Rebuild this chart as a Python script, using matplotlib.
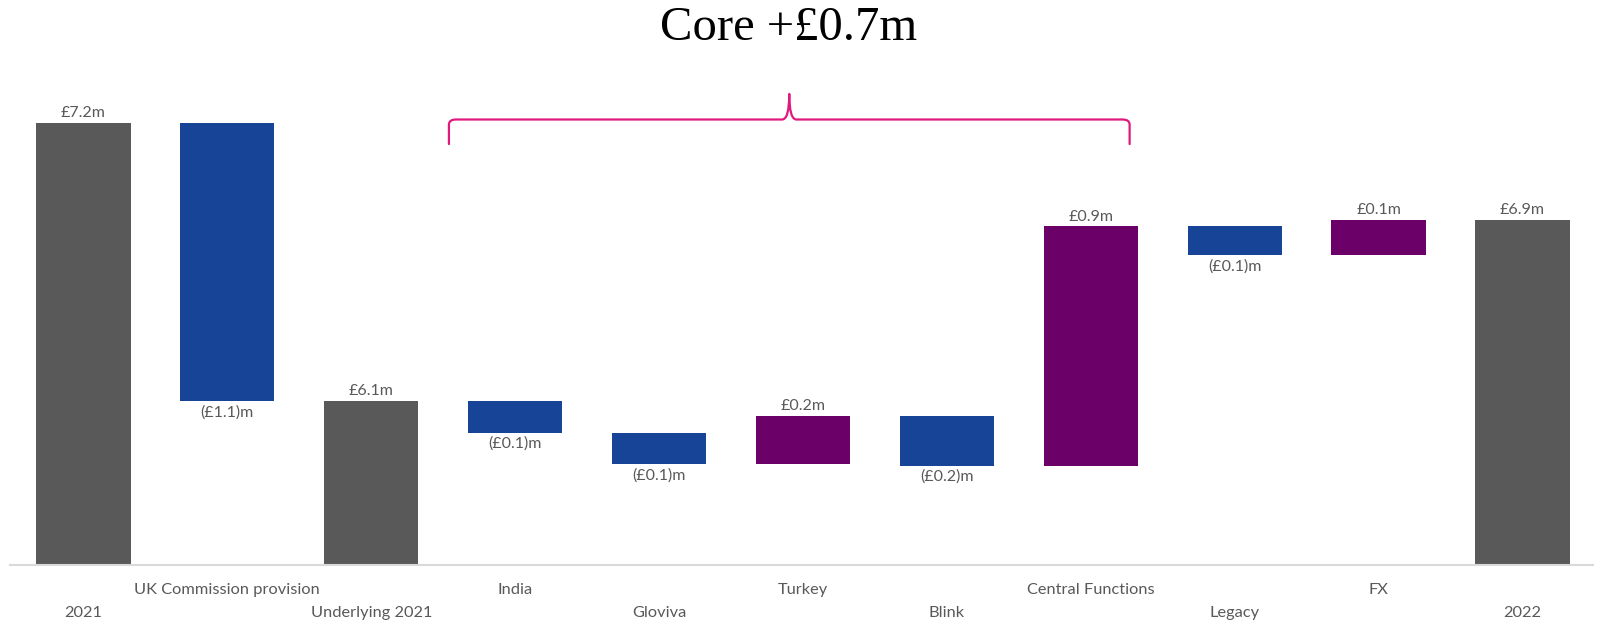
import numpy as np
import matplotlib.pyplot as plt
from matplotlib.path import Path
from matplotlib.patches import PathPatch

# ==== Data (GBP m) ====
categories = ["2021", "UK Commission provision", "Underlying 2021", "India", "Gloviva",
              "Turkey", "Blink", "Central Functions", "Legacy", "FX", "2022"]
is_total = [True, False, True, False, False, False, False, False, False, False, True]
deltas = [7.2, -1.1, 0.0, -0.125, -0.125, 0.19, -0.195, 0.945, -0.113, 0.137, 0.0]
value_labels = ["£7.2m", "(£1.1)m", "£6.1m", "(£0.1)m", "(£0.1)m", "£0.2m",
                "(£0.2)m", "£0.9m", "(£0.1)m", "£0.1m", "£6.9m"]
title_text = "Core +£0.7m"

# ==== Colours ====
C_TOTAL = "#595959"
C_NEG = "#184497"
C_POS = "#6A0068"
C_TEXT = "#595959"
C_BRACE = "#E0197F"

FONT = "Lato"
Y_MIN = 5.454
Y_MAX = 7.684

# ==== Build waterfall ====
bottoms, heights, colors = [], [], []
running = 0.0
for tot, d in zip(is_total, deltas):
    if tot:
        running = running + d
        bottoms.append(Y_MIN)
        heights.append(running - Y_MIN)
        colors.append(C_TOTAL)
    else:
        lo, hi = sorted([running, running + d])
        bottoms.append(lo)
        heights.append(hi - lo)
        colors.append(C_NEG if d < 0 else C_POS)
        running += d

x = np.arange(len(categories))

fig = plt.figure(figsize=(16.01, 6.23), dpi=100)
ax = fig.add_axes([10 / 1601, 1 - 564.6 / 623, 1583 / 1601, 564.6 / 623])
ax.bar(x, heights, bottom=bottoms, width=0.655, color=colors, zorder=2)
ax.set_xlim(-0.51, 10.49)
ax.set_ylim(Y_MIN, Y_MAX)
ax.axis("off")
ax.axhline(Y_MIN, color="#D9D9D9", lw=1.5, zorder=3, clip_on=False)

# value labels
for i, (tot, d) in enumerate(zip(is_total, deltas)):
    top = bottoms[i] + heights[i]
    if not tot and d < 0:
        ax.annotate(value_labels[i], (x[i], bottoms[i]), xytext=(0, -3), textcoords="offset points",
                    ha="center", va="top", fontsize=11.5, color=C_TEXT, family=FONT)
    else:
        ax.annotate(value_labels[i], (x[i], top), xytext=(0, 2), textcoords="offset points",
                    ha="center", va="bottom", fontsize=11.5, color=C_TEXT, family=FONT)

# category labels, staggered
for i, cat in enumerate(categories):
    off = -18 if i % 2 == 1 else -34.5
    ax.annotate(cat, (x[i], 0), xycoords=("data", "axes fraction"), xytext=(0, off),
                textcoords="offset points", ha="center", va="center",
                fontsize=11.8, color=C_TEXT, family=FONT, annotation_clip=False)

# brace over the core segments
bx0, bx1 = 2.54, 7.27
bm = (bx0 + bx1) / 2
yl, yb, yt = 7.212, 7.115, 7.313
r = 0.05
verts = [(bx0, yb), (bx0, yl - 0.02), (bx0, yl), (bx0 + r, yl),
         (bm - r, yl), (bm, yl), (bm, yt),
         (bm, yl), (bm + r, yl),
         (bx1 - r, yl), (bx1, yl), (bx1, yl - 0.02), (bx1, yb)]
codes = [Path.MOVETO, Path.LINETO, Path.CURVE3, Path.CURVE3,
         Path.LINETO, Path.CURVE3, Path.CURVE3,
         Path.CURVE3, Path.CURVE3,
         Path.LINETO, Path.CURVE3, Path.CURVE3, Path.LINETO]
ax.add_patch(PathPatch(Path(verts, codes), fill=False, edgecolor=C_BRACE, lw=1.6,
                       capstyle="round", joinstyle="round"))

fig.text(789 / 1601, 1 - 28 / 623, title_text, ha="center", va="center",
         fontsize=35, family="Liberation Serif", color="black")

fig.savefig("out.png", dpi=100)
